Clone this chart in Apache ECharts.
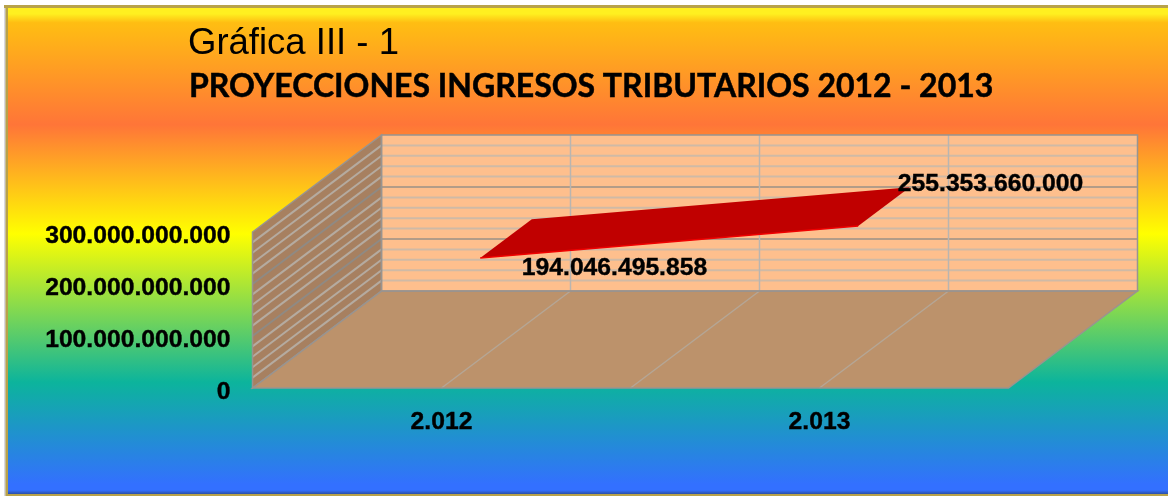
<!DOCTYPE html>
<html><head><meta charset="utf-8">
<style>html,body{margin:0;padding:0;background:#fff}#c{width:1168px;height:498px}</style>
<script src="https://cdn.jsdelivr.net/npm/echarts@6/dist/echarts.min.js"></script>
</head><body><div id="c"></div>
<script>
const categories = ['2.012', '2.013'];
const values = [194046495858, 255353660000];
const valueLabels = ['194.046.495.858', '255.353.660.000'];
const majorTicks = [0, 100e9, 200e9, 300e9];
const minorTicks = [20e9, 40e9, 60e9, 80e9, 120e9, 140e9, 160e9, 180e9, 220e9, 240e9, 260e9, 280e9];
const titleText = 'Gráfica III - 1';
const subtitleText = 'PROYECCIONES INGRESOS TRIBUTARIOS 2012 - 2013';

const DX = 129, DY = -97;
const ribbonFront = 0.3, ribbonBack = 0.7;
const C = {wall:'#FEBF8D', side:'#A78060', floor:'#BC926B', edge:'#999490',
  minorBack:'#CFBAA6', majorBack:'#B39C88', vert:'#B9B5B0', minorSide:'#B5ABA0', majorSide:'#8F8A84', floorLine:'#B5A696'};
const boldLabel = {fontFamily:'Liberation Sans',fontWeight:'bold',fontSize:24.7,color:'#000',textBorderColor:'#000',textBorderWidth:0.4};

function line(x1,y1,x2,y2,stroke,w){return {type:'line',shape:{x1,y1,x2,y2},style:{stroke,lineWidth:w||1.5,fill:null},silent:true};}
function poly(points,fill,stroke){return {type:'polygon',shape:{points},style:{fill,stroke:stroke||null,lineWidth:stroke?1.5:0},silent:true};}

function renderBox(params, api){
  const cs = params.coordSys, L = cs.x, R = cs.x + cs.width;
  const y0 = api.coord([0,0])[1], yT = api.coord([0,300e9])[1];
  const ch = [];
  ch.push(poly([[L+DX,yT+DY],[R+DX,yT+DY],[R+DX,y0+DY],[L+DX,y0+DY]],C.wall));
  ch.push(poly([[L,yT],[L+DX,yT+DY],[L+DX,y0+DY],[L,y0]],C.side));
  ch.push(poly([[L,y0],[L+DX,y0+DY],[R+DX,y0+DY],[R,y0]],C.floor));
  minorTicks.forEach(v=>{const y=api.coord([0,v])[1];
    ch.push(line(L+DX,y+DY,R+DX,y+DY,C.minorBack,2));
    ch.push(line(L,y,L+DX,y+DY,C.minorSide,2));});
  majorTicks.slice(1,3).forEach(v=>{const y=api.coord([0,v])[1];
    ch.push(line(L+DX,y+DY,R+DX,y+DY,C.majorBack,2));
    ch.push(line(L,y,L+DX,y+DY,C.majorSide,2));});
  const w = cs.width/4;
  [1,2,3].forEach(i=>{const x=L+w*i;
    ch.push(line(x+DX,yT+DY,x+DX,y0+DY,C.vert,1.5));
    ch.push(line(x,y0,x+DX,y0+DY,C.floorLine,1.5));});
  ch.push(poly([[L+DX,yT+DY],[R+DX,yT+DY],[R+DX,y0+DY],[L+DX,y0+DY]],'rgba(0,0,0,0)',C.edge));
  ch.push(poly([[L,yT],[L+DX,yT+DY],[L+DX,y0+DY],[L,y0]],'rgba(0,0,0,0)',C.edge));
  ch.push(poly([[L,y0],[L+DX,y0+DY],[R+DX,y0+DY],[R,y0]],'rgba(0,0,0,0)',C.edge));
  return {type:'group',children:ch};
}
function renderRibbon(params, api){
  if(params.dataIndex>=values.length-1) return null;
  const a = api.coord([0,values[0]]), b = api.coord([1,values[1]]);
  const f = ribbonFront, k = ribbonBack;
  const p = (q,d)=>[q[0]+DX*d,q[1]+DY*d];
  return {type:'group',children:[
    poly([p(a,f),p(a,k),p(b,k),p(b,f)],'#C00000'),
    {type:'polyline',shape:{points:[p(a,f),p(b,f)]},style:{stroke:'#F00000',lineWidth:1.5,fill:null},silent:true}
  ]};
}
function renderLabels(params, api){
  const i = params.dataIndex;
  const q = api.coord([i,values[i]]);
  const off = [[173,-19],[171,-71]][i];
  return {type:'text',style:{text:valueLabels[i],x:q[0]+off[0],y:q[1]+off[1],align:'center',verticalAlign:'middle',
    font:'bold 24.7px "Liberation Sans"',fill:'#000',stroke:'#000',lineWidth:0.4},z2:10,silent:true};
}

const chart = echarts.init(document.getElementById('c'),null,{renderer:'canvas'});
chart.setOption({
  animation:false,
  backgroundColor:'#fff',
  title:[
    {text:titleText,left:188,top:25,textStyle:{fontFamily:'Liberation Sans',fontSize:36.5,fontWeight:'normal',color:'#000'},padding:0},
    {text:subtitleText,left:189,top:71,textStyle:{fontFamily:'Lato',fontSize:32,fontWeight:'bold',color:'#000',textBorderColor:'#000',textBorderWidth:0.5},padding:0}
  ],
  graphic:[
    {type:'rect',z:-10,shape:{x:4,y:5,width:1164,height:491},style:{fill:'#B8A24A'},silent:true},
    {type:'rect',z:-9,shape:{x:8,y:8,width:1160,height:486},silent:true,style:{fill:new echarts.graphic.LinearGradient(0,0,0,1,[
      {offset:0,color:'#FFF020'},{offset:0.012,color:'#FFF020'},{offset:0.03,color:'#FFBE12'},
      {offset:0.24,color:'#FF7538'},{offset:0.465,color:'#FFFF00'},{offset:0.77,color:'#0CB49C'},
      {offset:0.98,color:'#3370FF'},{offset:0.992,color:'#3370FF'},{offset:1,color:'#2A4FA8'}])}},
    {type:'rect',z:-8,shape:{x:4,y:8,width:1.5,height:488},style:{fill:'#D8D8E0'},silent:true}
  ],
  grid:{left:252.5,top:232,width:756,height:156},
  xAxis:{type:'category',data:categories,boundaryGap:true,axisLine:{show:false},axisTick:{show:false},splitLine:{show:false},
    axisLabel:Object.assign({margin:22},boldLabel)},
  yAxis:{type:'value',min:0,max:300e9,interval:100e9,axisLine:{show:false},axisTick:{show:false},splitLine:{show:false},
    axisLabel:Object.assign({margin:22,verticalAlign:'top',lineHeight:9,
      formatter:v=>String(Math.round(v)).replace(/\B(?=(\d{3})+$)/g,'.')},boldLabel)},
  series:[
    {type:'custom',z:1,coordinateSystem:'cartesian2d',data:[[0,0]],renderItem:renderBox,silent:true,clip:false},
    {type:'custom',z:2,coordinateSystem:'cartesian2d',data:[[0,values[0]],[1,values[1]]],renderItem:renderRibbon,silent:true,clip:false},
    {type:'custom',z:3,coordinateSystem:'cartesian2d',data:[[0,values[0]],[1,values[1]]],renderItem:renderLabels,silent:true,clip:false}
  ]
});
</script></body></html>
